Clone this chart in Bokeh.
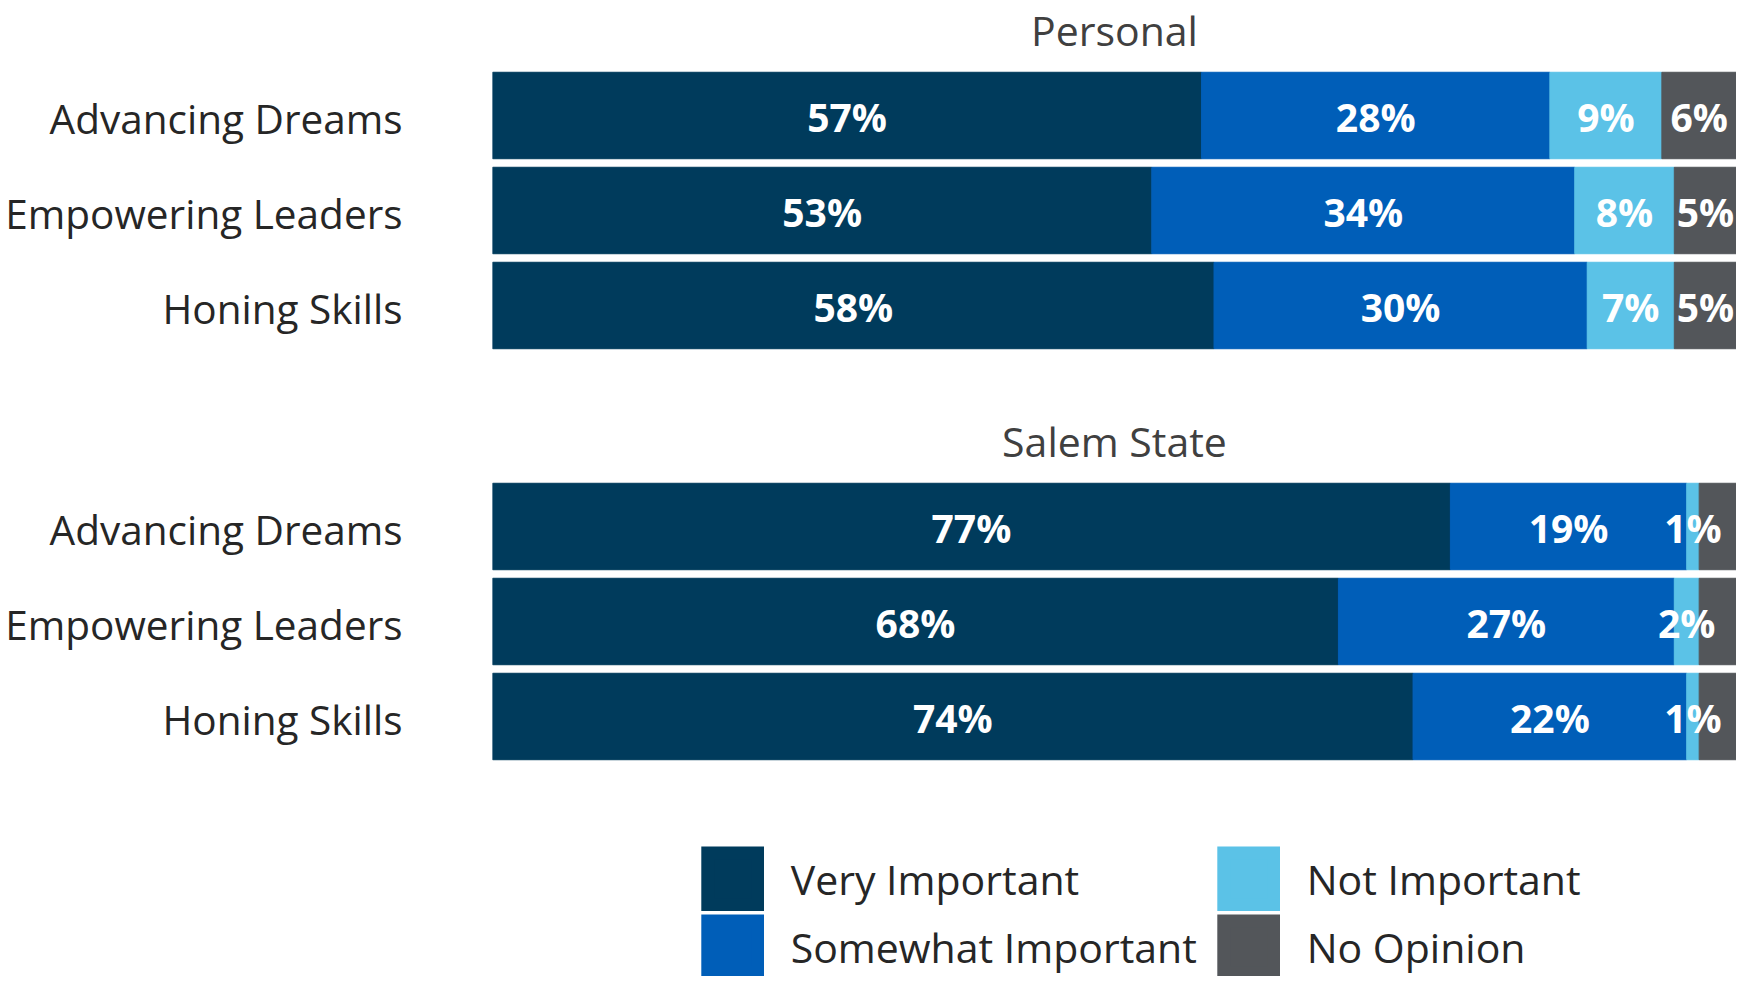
import numpy as np
from bokeh.plotting import figure
from bokeh.models import ColumnDataSource, Range1d, FixedTicker, Legend, LegendItem
from bokeh.embed import file_html
from bokeh.resources import INLINE
from bokeh.core.properties import value

# ---------------- data ----------------
categories = ["Advancing Dreams", "Empowering Leaders", "Honing Skills"]
group_titles = ["Personal", "Salem State"]
series = ["Very Important", "Somewhat Important", "Not Important", "No Opinion"]
colors = ["#003b5c", "#005eb8", "#5bc2e7", "#53565a"]

personal_very = [57, 53, 58]
personal_somewhat = [28, 34, 30]
personal_not = [9, 8, 7]
personal_noop = [6, 5, 5]

salem_very = [77, 68, 74]
salem_somewhat = [19, 27, 22]
salem_not = [1, 2, 1]
salem_noop = [3, 3, 3]

# which series carry a value label, per group
personal_labelled = [0, 1, 2, 3]
salem_labelled = [0, 1, 2]

# ---------------- layout constants ----------------
FONT = "Open Sans"
PITCH = 95.0                 # px per row
GROUP_GAP = 411.0 / PITCH    # rows between first rows of the two groups
TITLE_RISE = 86.0 / PITCH    # title centre above first row centre
LABEL_NUDGE = 3.0 / PITCH    # category label nudge downward
LEFT = 492
TOTAL_W = 1736
TOTAL_H = 976
TOP_PX = 115.0               # frame top to first row centre
BOTTOM_PX = TOTAL_H - TOP_PX

groups = [
    [personal_very, personal_somewhat, personal_not, personal_noop],
    [salem_very, salem_somewhat, salem_not, salem_noop],
]
labelled = [personal_labelled, salem_labelled]

rows_y = []
row_cats = []
for g in range(len(groups)):
    for j, c in enumerate(categories):
        rows_y.append(g * GROUP_GAP + j)
        row_cats.append(c)

data = {"y": rows_y}
for i, s in enumerate(series):
    data[s] = list(groups[0][i]) + list(groups[1][i])
src = ColumnDataSource(data)

p = figure(width=TOTAL_W, height=TOTAL_H,
           x_range=Range1d(0, 100),
           y_range=Range1d(BOTTOM_PX / PITCH, -TOP_PX / PITCH),
           output_backend="svg", toolbar_location=None,
           x_axis_type=None,
           min_border_left=LEFT, min_border_right=0,
           min_border_top=0, min_border_bottom=0)
p.outline_line_color = None
p.background_fill_color = "white"
p.border_fill_color = "white"

renderers = p.hbar_stack(series, y="y", height=0.91, color=colors, source=src)

# legend proxies: the same stacked bars, hidden, with a thick outline that
# fills the 10% inset Bokeh applies to box glyphs in legends
proxies = p.hbar_stack(series, y="y", height=0.91, fill_color=colors,
                       line_color=colors, line_width=13, line_join="miter",
                       source=src, visible=False)

# value labels
xs, ys, txt = [], [], []
for g, vals in enumerate(groups):
    arr = np.array(vals, dtype=float)
    mids = np.cumsum(arr, axis=0) - arr / 2
    for i in labelled[g]:
        for j in range(len(categories)):
            xs.append(mids[i][j])
            ys.append(g * GROUP_GAP + j)
            txt.append(f"{int(arr[i][j])}%")
lsrc = ColumnDataSource(dict(x=xs, y=ys, t=txt))
p.text(x="x", y="y", text="t", source=lsrc, text_align="center",
       text_baseline="middle", y_offset=1, text_color="white",
       text_font=value(FONT), text_font_size="39px", text_font_style="bold")

# group titles
tsrc = ColumnDataSource(dict(
    x=[50.0] * len(group_titles),
    y=[g * GROUP_GAP - TITLE_RISE for g in range(len(group_titles))],
    t=group_titles))
p.text(x="x", y="y", text="t", source=tsrc, text_align="center",
       text_baseline="middle", text_color="#404040",
       text_font=value(FONT), text_font_size="41px")

# category axis
ticks = [y + LABEL_NUDGE for y in rows_y]
p.yaxis.ticker = FixedTicker(ticks=ticks, minor_ticks=[])
p.yaxis.major_label_overrides = {t: c for t, c in zip(ticks, row_cats)}
p.yaxis.axis_line_color = None
p.yaxis.major_tick_line_color = None
p.yaxis.major_tick_out = 0
p.yaxis.major_tick_in = 0
p.yaxis.minor_tick_line_color = None
p.yaxis.major_label_standoff = 90
p.yaxis.major_label_text_font = FONT
p.yaxis.major_label_text_font_size = "40.5px"
p.yaxis.major_label_text_color = "#262626"
p.ygrid.grid_line_color = None

items = [LegendItem(label=s, renderers=[r]) for s, r in zip(series, proxies)]
legend = Legend(items=items, location=(208.7, -3), nrows=2,
                orientation="vertical", glyph_width=63, glyph_height=65,
                label_height=65, label_standoff=27, spacing=3, padding=0,
                margin=0, border_line_color=None, background_fill_alpha=0,
                inactive_fill_alpha=0,
                label_text_font=FONT, label_text_font_size="41px",
                label_text_color="#262626", label_width=423)
p.add_layout(legend, "center")

open("out.html", "w").write(file_html(p, INLINE))
